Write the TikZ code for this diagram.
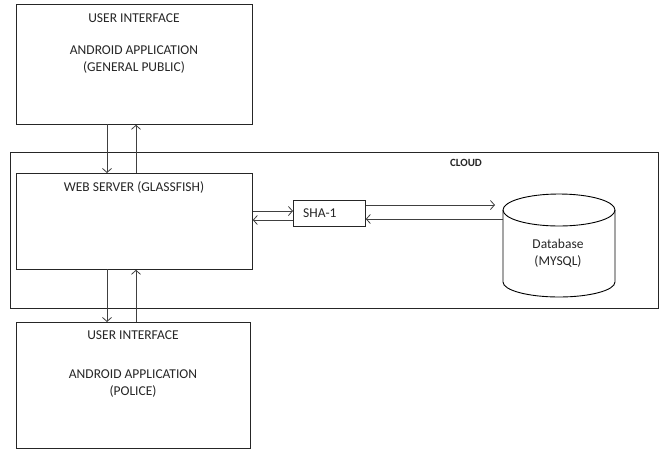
\documentclass[tikz,border=0pt]{standalone}
\usepackage{fontspec}
\setmainfont{Carlito}
\usetikzlibrary{arrows.meta}
\begin{document}
\begin{tikzpicture}[x=1pt,y=-1pt,
  box/.style={draw=black!85,line width=0.8pt,fill=white},
  txt/.style={font=\fontsize{13.5}{17}\selectfont,text=black!85,inner sep=0pt},
  conn/.style={draw=black!75,line width=0.8pt,-{Straight Barb[length=4pt,width=9pt]}}]
\useasboundingbox (0,0) rectangle (662,448);
\fill[white] (0,0) rectangle (662,448);
% cloud
\node[box,minimum width=648pt,minimum height=156pt,anchor=north west,inner sep=0pt] (cloud) at (10,152) {};
\node[txt,font=\fontsize{11}{13}\selectfont\bfseries] (cloudlbl) at (466,163) {CLOUD};
% top box
\node[box,minimum width=236pt,minimum height=120pt,anchor=north west,inner sep=0pt] (top) at (16,4) {};
\node[txt] (topui) at (134,18) {USER INTERFACE};
\node[txt,align=center] (topapp) at (134,60) {ANDROID APPLICATION\\(GENERAL PUBLIC)};
% web server
\node[box,minimum width=236pt,minimum height=96pt,anchor=north west,inner sep=0pt] (web) at (16,173) {};
\node[txt] (weblbl) at (134,187) {WEB SERVER (GLASSFISH)};
% bottom box
\node[box,minimum width=234pt,minimum height=126pt,anchor=north west,inner sep=0pt] (bot) at (16,322) {};
\node[txt] (botui) at (133,335) {USER INTERFACE};
\node[txt,align=center] (botapp) at (133,384) {ANDROID APPLICATION\\(POLICE)};
% SHA-1
\node[box,minimum width=72pt,minimum height=26pt,anchor=north west,inner sep=0pt] (sha) at (293,200) {};
\node[txt,anchor=west] (shalbl) at (303,213) {SHA-1};
% database cylinder
\draw[black,line width=0.9pt,fill=white] (503,210) -- (503,282) arc[start angle=180,end angle=0,x radius=56,y radius=15] -- (615,210);
\draw[black,line width=0.9pt] (559,210) ellipse[x radius=56,y radius=16];
\node[txt,align=center] (db) at (558,253) {Database\\(MYSQL)};
\coordinate (dbin) at (495,205);
\coordinate (dbout) at (503,219);
% connectors top
\draw[conn] (107,124) coordinate (t1) -- (t1 |- web.north);
\draw[conn] (136,173) coordinate (t2) -- (t2 |- top.south);
% connectors bottom
\draw[conn] (107,269) coordinate (b1) -- (b1 |- bot.north);
\draw[conn] (136,322) coordinate (b2) -- (b2 |- web.south);
% web <-> sha
\draw[conn] (web.east |- 0,211) -- (sha.west |- 0,211);
\draw[conn] (sha.west |- 0,220) -- (web.east |- 0,220);
% sha <-> db
\draw[conn] (sha.east |- dbin) -- (dbin);
\draw[conn] (dbout) -- (sha.east |- dbout);
\end{tikzpicture}
\end{document}
